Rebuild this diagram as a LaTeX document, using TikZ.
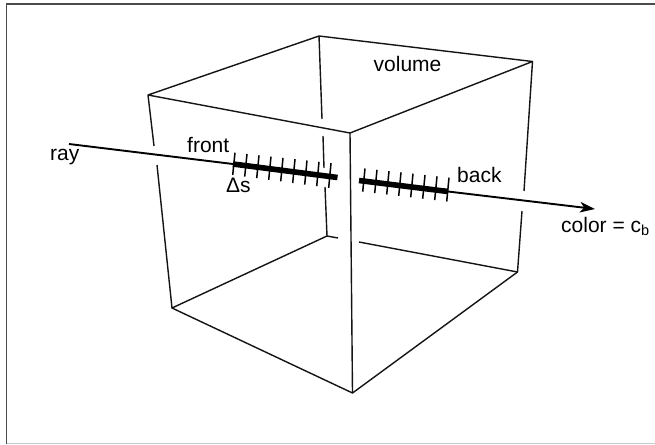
\documentclass[tikz,border=0pt]{standalone}
\usepackage{fontspec}
\setmainfont{Liberation Sans}
\usetikzlibrary{arrows.meta}
\tikzset{
 px/.style={x=1pt,y=-1pt},
 edge/.style={line width=1.4pt,black!92},
 rayline/.style={line width=1.9pt},
 heavyseg/.style={line width=5.6pt},
 tickmark/.style={line width=1.5pt},
 lab/.style={inner sep=0pt,font=\fontsize{21}{24}\selectfont}
}
\begin{document}
\begin{tikzpicture}[px]
\useasboundingbox (0,0) rectangle (655,444);
\fill[white] (0,0) rectangle (655,444);
\draw[line width=1.4pt,black!70] (6.5,444) -- (6.5,4) -- (655,4);
\draw[line width=1.2pt,black!22] (6.5,443.5) -- (655,443.5);
\coordinate (tl) at (148,95);
\coordinate (tb) at (319,36);
\coordinate (tr) at (532.5,61.5);
\coordinate (tf) at (350,133);
\coordinate (bf) at (352.5,393);
\coordinate (bl) at (172,308);
\coordinate (bb) at (327,236);
\coordinate (br) at (517.5,272);
\coordinate (l1) at (154,146);
\coordinate (l2) at (157,165);
\coordinate (k0) at (322,119);
\coordinate (k1) at (323,136);
\coordinate (k2) at (324,168);
\coordinate (k3) at (325,187);
\coordinate (m1) at (338,238);
\coordinate (m2) at (359,242);
\coordinate (r1) at (524,191);
\coordinate (r2) at (522,211);
\draw[edge,line join=round] (l1) -- (tl) -- (tb) -- (tr) -- (tf) -- (tl);
\draw[edge,line join=round] (tf) -- (bf) -- (bl) -- (l2);
\draw[edge,line join=round] (bf) -- (br) -- (r2);
\draw[edge] (r1) -- (tr);
\draw[edge] (tb) -- (k0);
\draw[edge] (k1) -- (k2);
\draw[edge,line join=round] (k3) -- (bb) -- (m1);
\draw[edge] (bl) -- (bb);
\draw[edge] (m2) -- (br);
\coordinate (ray0) at (69,144);
\coordinate (ray1) at (595,209);
\coordinate (s1) at (233,164);
\coordinate (s2) at (337.5,177.5);
\coordinate (s3) at (359,180.5);
\coordinate (s4) at (448,191.5);
\draw[rayline] (ray0) -- (s1);
\draw[rayline,-{Stealth[length=15pt,width=10.5pt,inset=4pt]}] (s4) -- (ray1);
\draw[heavyseg] (s1) -- (s2);
\draw[heavyseg] (s3) -- (s4);
\foreach \i in {0,...,8}{
  \draw[tickmark] ({235+\i*12.0},{152.7+\i*1.3}) -- ({232.7+\i*12.0},{175+\i*1.6});
}
\foreach \i in {0,...,7}{
  \draw[tickmark] ({365+\i*12.0},{168.5+\i*1.3}) -- ({362.7+\i*12.0},{191.7+\i*1.4});
}
\node[lab,anchor=base west] (ray) at (50,160) {ray};
\node[lab,anchor=base west] (front) at (187,152) {front};
\node[lab,anchor=base west] (ds) at (226,192.7) {Δs};
\node[lab,anchor=base west] (back) at (457,182) {back};
\node[lab,anchor=base west] (volume) at (373.5,71.5) {volume};
\node[lab,anchor=base west] (color) at (561,232.3) {color = c\raisebox{-3.5pt}{\fontsize{14.5}{14}\selectfont b}};
\end{tikzpicture}
\end{document}
